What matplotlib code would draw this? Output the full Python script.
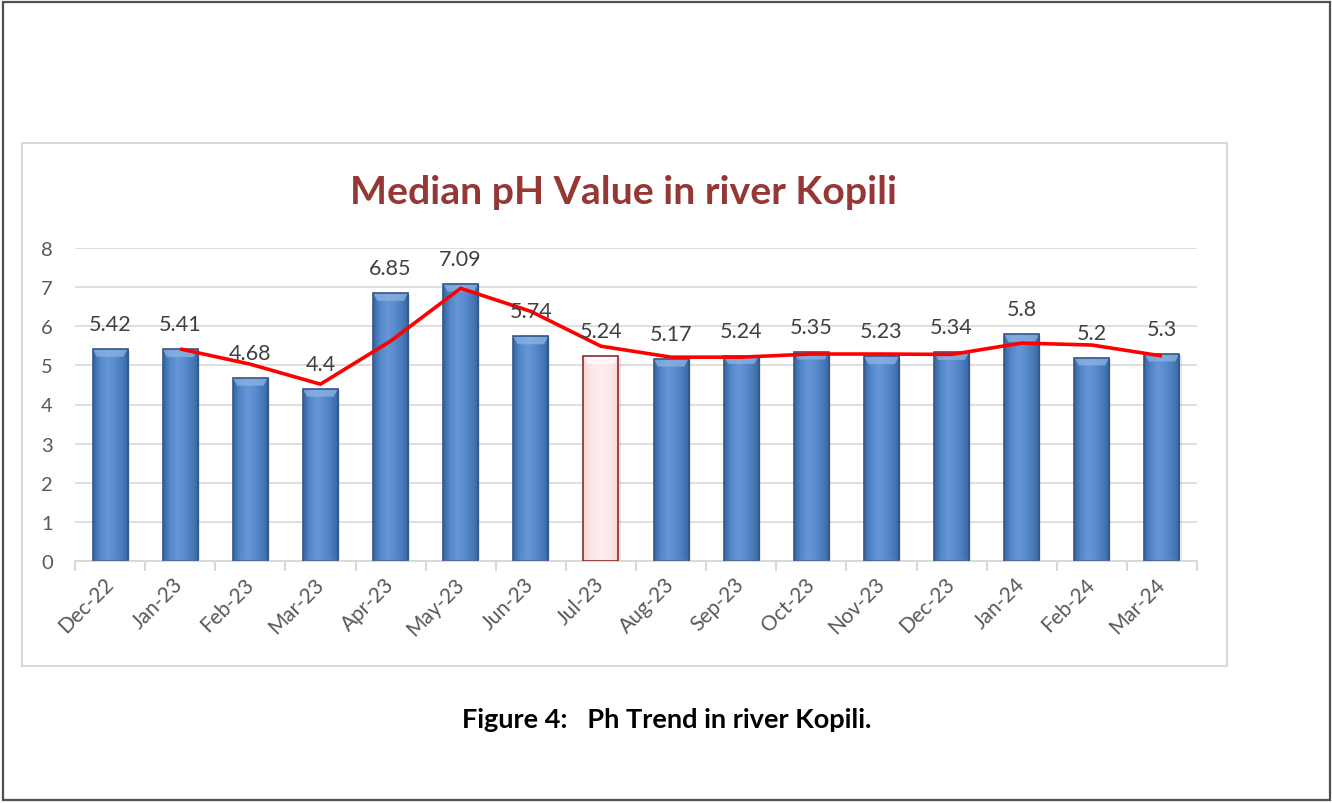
import numpy as np
import matplotlib
matplotlib.use("Agg")
import matplotlib.pyplot as plt
from matplotlib.patches import Rectangle, Polygon
from matplotlib.colors import LinearSegmentedColormap

plt.rcParams["font.family"] = ["Lato", "DejaVu Sans"]

months = ["Dec-22", "Jan-23", "Feb-23", "Mar-23", "Apr-23", "May-23", "Jun-23", "Jul-23",
          "Aug-23", "Sep-23", "Oct-23", "Nov-23", "Dec-23", "Jan-24", "Feb-24", "Mar-24"]
median_ph = [5.42, 5.41, 4.68, 4.4, 6.85, 7.09, 5.74, 5.24,
             5.17, 5.24, 5.35, 5.23, 5.34, 5.8, 5.2, 5.3]
# trend line (starts at the second month)
trend_ph = [5.42, 5.03, 4.52, 5.62, 6.97, 6.38, 5.49,
            5.21, 5.21, 5.29, 5.29, 5.28, 5.57, 5.52, 5.24]
highlight_month = "Jul-23"
y_ticks = [0, 1, 2, 3, 4, 5, 6, 7, 8]

W, H = 1332, 804
fig = plt.figure(figsize=(W / 100, H / 100), dpi=100)
fig.patch.set_facecolor("white")

# page frame and chart frame
fig.patches.append(Rectangle((3 / W, 3 / H), 1327 / W, 798 / H, transform=fig.transFigure,
                             fill=False, edgecolor="#505050", linewidth=1.6, zorder=0))
fig.patches.append(Rectangle((22 / W, 1 - 667 / H), 1205 / W, 523 / H, transform=fig.transFigure,
                             fill=False, edgecolor="#D9D9D9", linewidth=1.5, zorder=0))

ax = fig.add_axes([75 / W, 1 - 562 / H, 1122 / W, 313 / H])
ax.set_xlim(-0.5, len(months) - 0.5)
ax.set_ylim(0, 8)

blue_cmap = LinearSegmentedColormap.from_list(
    "bluebar", ["#36659F", "#5488CA", "#6696D6", "#5A8CCE", "#4A7CBC", "#36659F"])
pink_cmap = LinearSegmentedColormap.from_list(
    "pinkbar", ["#F6D6D6", "#FCE8E8", "#FDEDED", "#FCE8E8", "#F6D6D6"])

x = np.arange(len(months))
bw = 0.5
grad = np.linspace(0, 1, 256).reshape(1, -1)
for xi, m, v in zip(x, months, median_ph):
    hl = (m == highlight_month)
    edge = "#8E2A2C" if hl else "#34578A"
    # soft shadow
    ax.add_patch(Rectangle((xi - bw / 2 + 0.03, 0), bw, v - 0.04, facecolor="#000000",
                           alpha=0.10, edgecolor="none", zorder=1.5))
    bar = ax.bar(xi, v, width=bw, color="none", edgecolor=edge, linewidth=1.2, zorder=3)[0]
    img = ax.imshow(grad, extent=(xi - bw / 2, xi + bw / 2, 0, v), aspect="auto",
                    cmap=pink_cmap if hl else blue_cmap, zorder=2, interpolation="bicubic")
    img.set_clip_path(bar)
    # bevelled top
    bh = 0.2
    inset = 0.06
    top_col = "#FFFFFF" if hl else "#8DB4E4"
    ax.add_patch(Polygon([(xi - bw / 2, v), (xi + bw / 2, v), (xi + bw / 2 - inset, v - bh),
                          (xi - bw / 2 + inset, v - bh)], closed=True, facecolor=top_col,
                         edgecolor="none", alpha=0.75, zorder=2.5))
    ax.annotate(f"{v:g}", (xi, v), xytext=(0, 18), textcoords="offset points",
                ha="center", va="center", fontsize=15.5, color="#404040", zorder=5)

ax.plot(x[1:], trend_ph, color="#FF0000", linewidth=2.6, zorder=4, solid_capstyle="butt")

# axes styling
for s in ["top", "right", "left"]:
    ax.spines[s].set_visible(False)
ax.spines["bottom"].set_color("#D9D9D9")
ax.spines["bottom"].set_linewidth(1.5)
ax.set_yticks(y_ticks)
ax.yaxis.grid(True, color="#D9D9D9", linewidth=1.2)
ax.set_axisbelow(True)
ax.tick_params(axis="y", length=0, pad=16, labelsize=14.5, labelcolor="#595959")
ax.set_xticks(x)
ax.set_xticklabels(months, rotation=45, ha="right", va="center", rotation_mode="anchor",
                   fontsize=15, color="#595959")
ax.tick_params(axis="x", which="major", length=0, pad=14)
ax.set_xticks(np.arange(len(months) + 1) - 0.5, minor=True)
ax.tick_params(axis="x", which="minor", length=7, width=1.5, color="#D9D9D9")

fig.text(623 / W, 1 - 192 / H, "Median pH Value in river Kopili", ha="center", va="center",
         fontsize=28.3, fontweight="bold", color="#953735")
fig.text(667 / W, 1 - 720 / H, "Figure 4:   Ph Trend in river Kopili.", ha="center",
         va="center", fontsize=19.5, fontweight="bold", color="#000000")

fig.savefig("out.png", dpi=100, facecolor="white")
